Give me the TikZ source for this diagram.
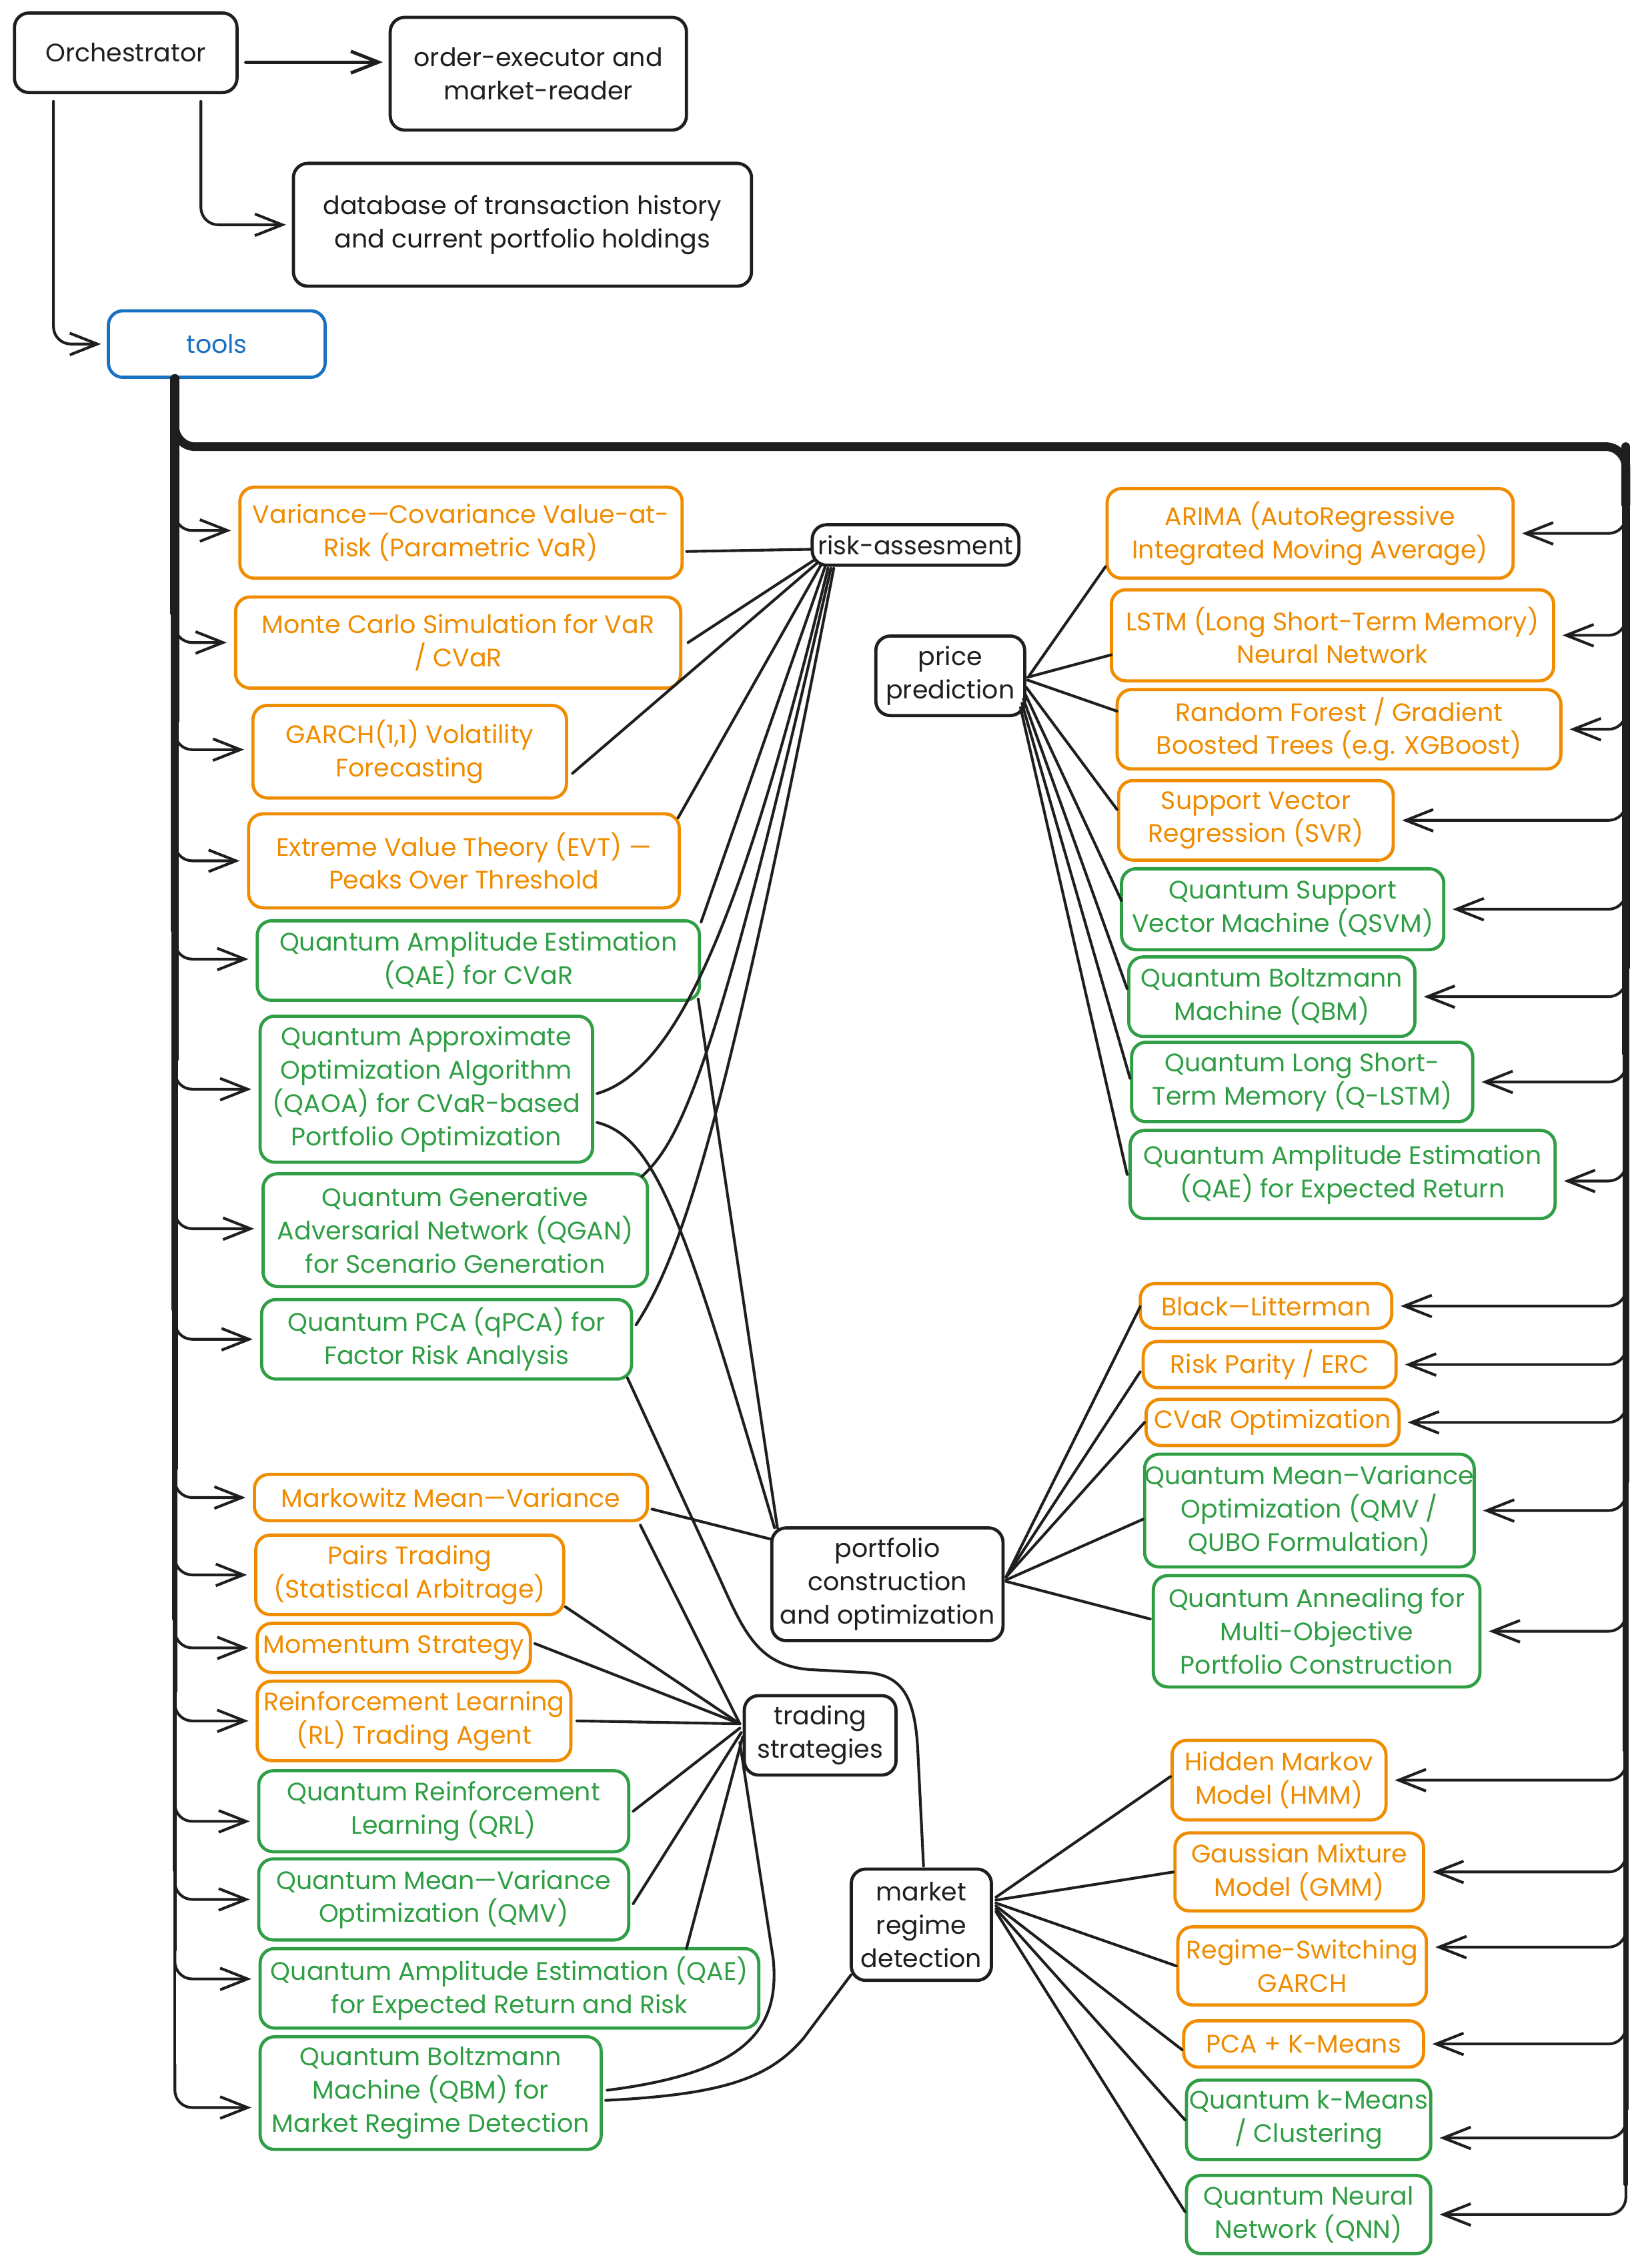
\documentclass[tikz,border=0pt]{standalone}
\usepackage{fontspec}
\setmainfont{Poppins}
\usetikzlibrary{arrows.meta}
\definecolor{orng}{HTML}{F08C00}
\definecolor{grn}{HTML}{2F9E44}
\definecolor{blu}{HTML}{1971C2}
\definecolor{blk}{HTML}{1E1E1E}
\newcommand{\myfs}{\fontsize{17.5}{23}\selectfont}
\newcommand{\bx}[7]{\node[#1, minimum width=#5pt, minimum height=#6pt] (#2) at (#3,#4) {#7};}
\tikzset{
  base/.style={draw, rounded corners=10pt, line width=2.2pt, align=center, inner sep=0pt, font=\myfs},
  ob/.style={base, draw=orng, text=orng},
  gb/.style={base, draw=grn, text=grn},
  kb/.style={base, draw=blk, text=blk},
  bb/.style={base, draw=blu, text=blu},
  con/.style={draw=blk, line width=1.9pt, line cap=round, line join=round},
  arr/.style={con, -{Straight Barb[length=19pt,width=15pt]}},
  trunk/.style={draw=blk, line cap=round, line join=round}
}
\begin{document}
\begin{tikzpicture}[x=1pt,y=-1pt]
\fill[white] (0,0) rectangle (1140,1569);
\useasboundingbox (0,0) rectangle (1140,1569);

% top
\bx{kb}{orch}{87}{36.5}{154}{55}{Orchestrator}
\bx{kb}{ordex}{372.5}{51}{205}{78}{order-executor and\\market-reader}
\bx{kb}{db}{361.5}{155.5}{317}{85}{database of transaction history\\and current portfolio holdings}
\bx{bb}{tools}{150}{238}{150}{46}{tools}

% left column
\bx{ob}{var}{319}{368.5}{306}{63}{Variance—Covariance Value-at-\\Risk (Parametric VaR)}
\bx{ob}{mc}{317}{444.5}{308}{63}{Monte Carlo Simulation for VaR\\/ CVaR}
\bx{ob}{garch}{283.5}{520}{217}{64}{GARCH(1,1) Volatility\\Forecasting}
\bx{ob}{evt}{321}{595.5}{298}{65}{Extreme Value Theory (EVT) —\\Peaks Over Threshold}
\bx{gb}{qaecvar}{331}{664.5}{306}{55}{Quantum Amplitude Estimation\\(QAE) for CVaR}
\bx{gb}{qaoa}{295}{753.5}{230}{101}{Quantum Approximate\\Optimization Algorithm\\(QAOA) for CVaR-based\\Portfolio Optimization}
\bx{gb}{qgan}{315}{851}{266}{78}{Quantum Generative\\Adversarial Network (QGAN)\\for Scenario Generation}
\bx{gb}{qpca}{309}{926.5}{256}{55}{Quantum PCA (qPCA) for\\Factor Risk Analysis}
\bx{ob}{mark}{312}{1036}{272}{32}{Markowitz Mean—Variance}
\bx{ob}{pairs}{283.5}{1089.5}{213}{55}{Pairs Trading\\(Statistical Arbitrage)}
\bx{ob}{mom}{272.5}{1140}{189}{34}{Momentum Strategy}
\bx{ob}{rl}{286.5}{1190.5}{217}{55}{Reinforcement Learning\\(RL) Trading Agent}
\bx{gb}{qrl}{307}{1253}{256}{56}{Quantum Reinforcement\\Learning (QRL)}
\bx{gb}{qmv}{307}{1314}{256}{56}{Quantum Mean—Variance\\Optimization (QMV)}
\bx{gb}{qaerr}{352.5}{1375.5}{345}{55}{Quantum Amplitude Estimation (QAE)\\for Expected Return and Risk}
\bx{gb}{qbmmr}{298}{1448}{236}{78}{Quantum Boltzmann\\Machine (QBM) for\\Market Regime Detection}

% hubs
\bx{kb}{risk}{633.5}{377}{143}{28}{risk-assesment}
\bx{kb}{price}{657.5}{467.5}{103}{55}{price\\prediction}
\bx{kb}{port}{614}{1096}{160}{78}{portfolio\\construction\\and optimization}
\bx{kb}{trade}{567.5}{1200.5}{105}{55}{trading\\strategies}
\bx{kb}{market}{637.5}{1331.5}{97}{77}{market\\regime\\detection}

% right column
\bx{ob}{arima}{906.5}{369}{281}{62}{ARIMA (AutoRegressive\\Integrated Moving Average)}
\bx{ob}{lstm}{922}{439.5}{306}{63}{LSTM (Long Short-Term Memory)\\Neural Network}
\bx{ob}{rf}{926.5}{504.5}{307}{55}{Random Forest / Gradient\\Boosted Trees (e.g. XGBoost)}
\bx{ob}{svr}{869}{567.5}{190}{55}{Support Vector\\Regression (SVR)}
\bx{gb}{qsvm}{887.5}{629}{223}{56}{Quantum Support\\Vector Machine (QSVM)}
\bx{gb}{qbm}{880}{689.5}{198}{55}{Quantum Boltzmann\\Machine (QBM)}
\bx{gb}{qlstm}{901}{748.5}{236}{55}{Quantum Long Short-\\Term Memory (Q-LSTM)}
\bx{gb}{qaeer}{929}{812.5}{294}{61}{Quantum Amplitude Estimation\\(QAE) for Expected Return}
\bx{ob}{bl}{876}{903.5}{174}{31}{Black—Litterman}
\bx{ob}{rp}{878.5}{944}{175}{32}{Risk Parity / ERC}
\bx{ob}{cvar}{880.5}{984}{175}{32}{CVaR Optimization}
\bx{gb}{qmvq}{906}{1045}{226}{78}{Quantum Mean–Variance\\Optimization (QMV /\\QUBO Formulation)}
\bx{gb}{qann}{911}{1128.5}{226}{77}{Quantum Annealing for\\Multi-Objective\\Portfolio Construction}
\bx{ob}{hmm}{885}{1231.5}{148}{55}{Hidden Markov\\Model (HMM)}
\bx{ob}{gmm}{899}{1295}{172}{54}{Gaussian Mixture\\Model (GMM)}
\bx{ob}{rsg}{901}{1360}{172}{54}{Regime-Switching\\GARCH}
\bx{ob}{pcak}{902}{1414}{166}{32}{PCA + K-Means}
\bx{gb}{qkm}{905.5}{1466.5}{169}{55}{Quantum k-Means\\/ Clustering}
\bx{gb}{qnn}{905.5}{1532}{169}{54}{Quantum Neural\\Network (QNN)}

% top arrows
\draw[arr, line width=2.3pt] ([shift={(5,6.5)}]orch.east) -- ([shift={(-4,-8)}]ordex.west);
\draw[arr, rounded corners=12pt] ([shift={(52,5)}]orch.south) |- ([shift={(-4,0)}]db.west);
\draw[arr, rounded corners=12pt] ([shift={(-50,5)}]orch.south) |- ([shift={(-4,0)}]tools.west);

% bus from tools
\coordinate (tb) at ([shift={(-29,1)}]tools.south);
\coordinate (rb) at (1125,309);
\draw[trunk, line width=6pt, rounded corners=14pt] (tb) |- (rb) -- (1125,349);
\foreach \ya/\yb/\w in {262/347/6.5, 347/424/6.2, 424/498.6/5.9, 498.6/575/5.6, 575/643.5/5.3, 643.5/733/5.0, 733/830/4.7, 830/906/4.4, 906/1016/4.1, 1016/1069/3.8, 1069/1120/3.5, 1120/1170/3.2, 1170/1240/2.9, 1240/1294/2.6, 1294/1349/2.3, 1349/1438/2.0}
  \draw[trunk, line width=\w pt] (121,\ya) -- (121,\yb);
\foreach \ya/\yb/\w in {309/349/6, 349/419/5.85, 419/485/5.7, 485/547/5.55, 547/608/5.4, 608/669/5.25, 669/729/5.1, 729/797/4.95, 797/883/4.8, 883/924/4.65, 924/964/4.5, 964/1025/4.35, 1025/1108/4.2, 1108/1211/4.05, 1211/1274/3.9, 1274/1327/3.75, 1327/1394/3.6, 1394/1459/3.45, 1459/1511/3.3}
  \draw[trunk, line width=\w pt] (1125,\ya) -- (1125,\yb);

% left branches
\foreach \n/\dy in {var/-1.5, mc/0, garch/-1.4, evt/0, qaecvar/-1, qaoa/0, qgan/-1, qpca/0, mark/0, pairs/0, mom/0, rl/0, qrl/7, qmv/0, qaerr/-6.5, qbmmr/10}{
  \path ([shift={(-5,\dy)}]\n.west) coordinate (lt-\n);
  \path (lt-\n -| tb) ++(0,-30) coordinate (ls-\n);
  \draw[arr, rounded corners=12pt] (ls-\n) |- (lt-\n);
}
% right branches
\foreach \n/\dy in {arima/0, lstm/0, rf/0, svr/0, qsvm/0, qbm/0, qlstm/0, qaeer/4.5, bl/0, rp/0, cvar/0, qmvq/0, qann/0, hmm/0, gmm/0, rsg/-13, pcak/0, qkm/12.5, qnn/0}{
  \path ([shift={(5,\dy)}]\n.east) coordinate (rt-\n);
  \path (rt-\n -| rb) ++(0,-30) coordinate (rs-\n);
  \draw[arr, rounded corners=12pt] (rs-\n) |- (rt-\n);
}

% risk-assesment connections
\draw[con] ([shift={(2,13)}]var.east) -- ([shift={(0,3)}]risk.west);
\draw[con] ([shift={(4,0)}]mc.east) -- ([shift={(3,-5)}]risk.south west);
\draw[con] ([shift={(3,15)}]garch.east) -- ([shift={(5,-3)}]risk.south west);
\draw[con] ([shift={(-2,4)}]evt.north east) -- ([shift={(7,-1)}]risk.south west);
\draw[con] ([shift={(0,2)}]qaecvar.north east) -- ([shift={(10,0)}]risk.south west);
\draw[con] ([shift={(2,3)}]qaoa.east) .. controls (470,740) and (515,630) .. ([shift={(12,1)}]risk.south west);
\draw[con] ([shift={(-5,3)}]qgan.north east) .. controls (470,790) and (495,745) .. ([shift={(14,1)}]risk.south west);
\draw[con] ([shift={(2,-10)}]qpca.east) .. controls (470,870) and (500,790) .. ([shift={(16,1)}]risk.south west);

% portfolio left
\draw[con] ([shift={(-2,-2)}]qaecvar.south east) -- ([shift={(5,1)}]port.north west);
\draw[con] ([shift={(2,23)}]qaoa.east) .. controls (455,787) and (475,850) .. ([shift={(3,1)}]port.north west);
\draw[con] ([shift={(2,8)}]mark.east) -- ([shift={(1,9)}]port.north west);

% portfolio right
\coordinate (pe) at ([shift={(1,-5)}]port.east);
\draw[con] (pe) -- ([shift={(1,0.5)}]bl.west);
\draw[con] (pe) -- ([shift={(-1,5)}]rp.west);
\draw[con] (pe) -- (cvar.west);
\draw[con] ([shift={(0,2)}]pe) -- ([shift={(0,6)}]qmvq.west);
\draw[con] ([shift={(0,3)}]pe) -- ([shift={(-1,-8.5)}]qann.west);

% trading strategies
\coordinate (tw) at ([shift={(-2,-8)}]trade.west);
\draw[con] ([shift={(-6,2)}]mark.south east) -- (tw);
\draw[con] ([shift={(0,22)}]pairs.east) -- (tw);
\draw[con] ([shift={(2,-3)}]mom.east) -- (tw);
\draw[con] ([shift={(3,0)}]rl.east) -- (tw);
\draw[con] ([shift={(2,0)}]qrl.east) -- ([shift={(0,3)}]tw);
\draw[con] ([shift={(2,3)}]qmv.east) -- ([shift={(1,6)}]tw);
\draw[con] ([shift={(122.5,1)}]qaerr.north) -- ([shift={(2,9)}]tw);
\draw[con] ([shift={(3,-2)}]qbmmr.east) .. controls (515,1434) and (540,1405) .. (535,1355) -- ([shift={(0,13)}]tw);

% market regime
\draw[con] ([shift={(2,5)}]qbmmr.east) .. controls (500,1449) and (532,1438) .. (556,1410) -- ([shift={(1,-5)}]market.south west);
\draw[con] ([shift={(-4,-2)}]qpca.south east) -- (498,1092) .. controls (515,1130) and (525,1152) .. (560,1155) -- (598,1157) .. controls (625,1158) and (633,1175) .. (635,1210) -- ([shift={(1.5,-1)}]market.north);
\coordinate (me) at ([shift={(2,-19)}]market.east);
\draw[con] (me) -- ([shift={(0,-2.5)}]hmm.west);
\draw[con] ([shift={(0,2)}]me) -- (gmm.west);
\draw[con] ([shift={(0,4)}]me) -- (rsg.west);
\draw[con] ([shift={(0,6)}]me) -- ([shift={(0,4)}]pcak.west);
\draw[con] ([shift={(0,8)}]me) -- (qkm.west);
\draw[con] ([shift={(0,10)}]me) -- ([shift={(0,-2)}]qnn.west);

% price prediction
\draw[con] ([shift={(2,0)}]price.east) -- ([shift={(0,23)}]arima.west);
\draw[con] ([shift={(1,1)}]price.east) -- ([shift={(1,13.5)}]lstm.west);
\draw[con] ([shift={(1,3)}]price.east) -- ([shift={(1,-12.5)}]rf.west);
\draw[con] ([shift={(0,8)}]price.east) -- ([shift={(0,-7.5)}]svr.west);
\draw[con] ([shift={(-1,12)}]price.east) -- ([shift={(1,-6)}]qsvm.west);
\draw[con] ([shift={(-2,16)}]price.east) -- ([shift={(0,-5.5)}]qbm.west);
\draw[con] ([shift={(-3,19)}]price.east) -- ([shift={(0,-2.5)}]qlstm.west);
\draw[con] ([shift={(-4,22)}]price.east) -- ([shift={(-1,0)}]qaeer.west);
\end{tikzpicture}
\end{document}
